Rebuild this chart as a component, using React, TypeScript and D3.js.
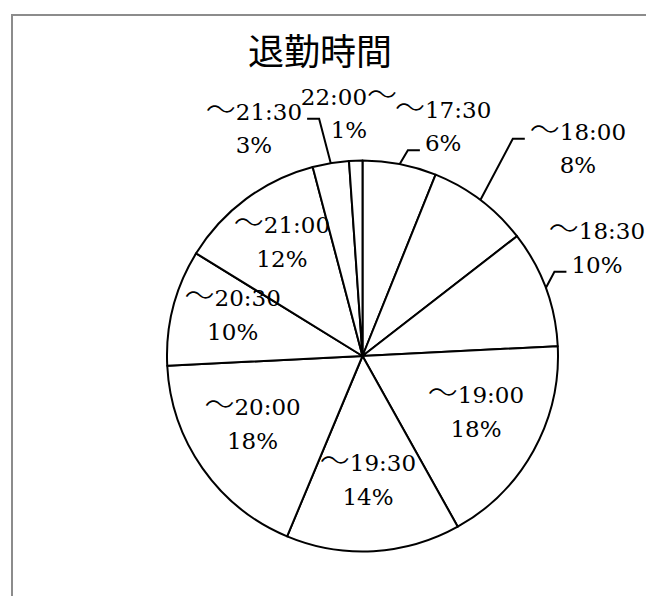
import React, { useEffect, useRef } from "react";
import * as d3 from "d3";

// ---- data ----
const title = "退勤時間";
const categories = [
  "～17:30",
  "～18:00",
  "～18:30",
  "～19:00",
  "～19:30",
  "～20:00",
  "～20:30",
  "～21:00",
  "～21:30",
  "22:00～",
];
const shares = [6.1, 8.4, 9.7, 17.7, 14.4, 17.9, 9.6, 12.1, 3.0, 1.1];

// ---- label layout (outside labels: polar placement, angle in degrees, distance as fraction of radius) ----
type Placement = null | {
  angle: number;
  dist: number;
  leader: null | { line: number; side: "left" | "right" };
};
const labelPlacement: Placement[] = [
  { angle: 20, dist: 1.206, leader: { line: 1, side: "left" } },
  { angle: 47.2, dist: 1.502, leader: { line: 0, side: "left" } },
  { angle: 66.9, dist: 1.304, leader: { line: 1, side: "left" } },
  null,
  null,
  null,
  null,
  null,
  { angle: 333.7, dist: 1.253, leader: { line: 0, side: "right" } },
  { angle: 356.7, dist: 1.202, leader: null },
];

const W = 646;
const H = 596;
const CX = 362.5;
const CY = 356;
const R = 195.5;
const LINE_GAP = 33.5;
const INSIDE_FACTOR = 0.675;
const FONT = "'DejaVu Serif', serif";
const TILDE_FONT = "'Noto Sans CJK JP', sans-serif";

export default function App() {
  const ref = useRef<SVGSVGElement | null>(null);

  useEffect(() => {
    const svg = d3.select(ref.current);
    svg.selectAll("*").remove();

    // frame
    svg
      .append("rect")
      .attr("x", 12)
      .attr("y", 15)
      .attr("width", W + 20)
      .attr("height", H + 20)
      .attr("fill", "white")
      .attr("stroke", "#8c8c8c")
      .attr("stroke-width", 2);

    // title
    svg
      .append("text")
      .attr("x", 320)
      .attr("y", 64.5)
      .attr("text-anchor", "middle")
      .attr("font-family", "'Noto Sans CJK JP', sans-serif")
      .attr("font-size", 36)
      .attr("font-weight", 400)
      .attr("fill", "black")
      .text(title);

    const total = d3.sum(shares);
    const pie = d3
      .pie<number>()
      .sort(null)
      .value((d) => d)
      .startAngle(0)
      .endAngle(2 * Math.PI);
    const arcs = pie(shares);
    const arc = d3.arc<d3.PieArcDatum<number>>().innerRadius(0).outerRadius(R);

    const g = svg.append("g").attr("transform", `translate(${CX},${CY})`);
    g.selectAll("path.slice")
      .data(arcs)
      .join("path")
      .attr("class", "slice")
      .attr("d", arc as any)
      .attr("fill", "white")
      .attr("stroke", "black")
      .attr("stroke-width", 2)
      .attr("stroke-linejoin", "round");

    const labels = svg.append("g");
    const leaders = svg.append("g");

    const writeLine = (
      sel: d3.Selection<SVGTextElement, unknown, null, undefined>,
      t: string
    ) => {
      const parts = t.split(/(～)/).filter((s) => s.length > 0);
      parts.forEach((p) => {
        const ts = sel.append("tspan").text(p);
        if (p === "～") {
          ts.attr("font-family", TILDE_FONT).attr("font-size", 30).attr("font-weight", 300);
        }
      });
    };

    arcs.forEach((a, i) => {
      const mid = (a.startAngle + a.endAngle) / 2;
      const pl = labelPlacement[i];
      let x: number, y: number;
      if (pl) {
        const ang = (pl.angle * Math.PI) / 180;
        x = CX + pl.dist * R * Math.sin(ang);
        y = CY - pl.dist * R * Math.cos(ang);
      } else {
        x = CX + INSIDE_FACTOR * R * Math.sin(mid) - 2;
        y = CY - INSIDE_FACTOR * R * Math.cos(mid);
      }
      const pct = Math.round((shares[i] / total) * 100) + "%";
      const lines = [categories[i], pct];
      const nodes: SVGTextElement[] = [];
      lines.forEach((t, li) => {
        const tx = labels
          .append("text")
          .attr("x", x)
          .attr("y", y + (li === 0 ? -LINE_GAP / 2 : LINE_GAP / 2))
          .attr("text-anchor", "middle")
          .attr("font-family", FONT)
          .attr("font-size", 23)
          .attr("fill", "black");
        writeLine(tx as any, t);
        nodes.push(tx.node() as SVGTextElement);
      });
      if (pl && pl.leader) {
        const node = nodes[pl.leader.line];
        const bb = node.getBBox();
        const baseY = y + (pl.leader.line === 0 ? -LINE_GAP / 2 : LINE_GAP / 2) - 1;
        const endX = pl.leader.side === "left" ? bb.x - 5 : bb.x + bb.width + 5;
        const elbowX = pl.leader.side === "left" ? endX - 12 : endX + 12;
        const sx = CX + R * Math.sin(mid);
        const sy = CY - R * Math.cos(mid);
        const p = d3.path();
        p.moveTo(sx, sy);
        p.lineTo(elbowX, baseY);
        p.lineTo(endX, baseY);
        leaders
          .append("path")
          .attr("d", p.toString())
          .attr("fill", "none")
          .attr("stroke", "black")
          .attr("stroke-width", 2);
      }
    });
  }, []);

  return (
    <svg
      ref={ref}
      width={W}
      height={H}
      style={{ position: "absolute", left: 0, top: 0, background: "white" }}
    />
  );
}
